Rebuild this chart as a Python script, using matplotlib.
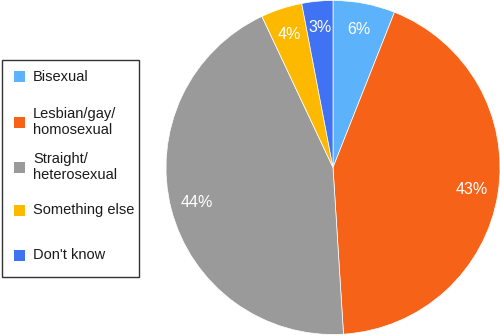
import matplotlib
matplotlib.use("Agg")
import matplotlib.pyplot as plt
from matplotlib.patches import Rectangle

categories = ["Bisexual", "Lesbian/gay/\nhomosexual", "Straight/\nheterosexual", "Something else", "Don't know"]
values = [6, 43, 44, 4, 3]
colors = ["#5CB3FC", "#F66318", "#9A9A9A", "#FDB900", "#3F73F4"]

plt.rcParams['font.family'] = ['Liberation Sans', 'DejaVu Sans']

W, H = 500, 335
fig = plt.figure(figsize=(W / 100, H / 100), dpi=100)

cx, cy, R = 333, 167.5, 167
ax = fig.add_axes([(cx - R) / W, (H - cy - R) / H, 2 * R / W, 2 * R / H])
wedges, texts, autotexts = ax.pie(
    values, colors=colors, startangle=90, counterclock=False,
    autopct=lambda p: f"{p:.0f}%", pctdistance=0.84,
    wedgeprops=dict(linewidth=0.5, edgecolor="white"),
    textprops=dict(color="white", fontsize=11.5))
ax.set_aspect("equal")
ax.set_xlim(-1, 1)
ax.set_ylim(-1, 1)

# legend drawn manually
lx0, lx1, ly0, ly1 = 2, 139, 60, 277
fig.add_artist(Rectangle((lx0 / W, 1 - ly1 / H), (lx1 - lx0) / W, (ly1 - ly0) / H,
                         transform=fig.transFigure, facecolor="white",
                         edgecolor="#333333", linewidth=1.0))
ys = [77, 122, 167, 210, 255]
for lab, col, y in zip(categories, colors, ys):
    fig.add_artist(Rectangle((13.5 / W, 1 - (y + 5.5) / H), 11 / W, 11 / H,
                             transform=fig.transFigure, facecolor=col, edgecolor="none"))
    fig.text(33 / W, 1 - y / H, lab, fontsize=10.5, va="center", ha="left",
             color="#1a1a1a", linespacing=1.2)

fig.savefig("out.png", dpi=100)
